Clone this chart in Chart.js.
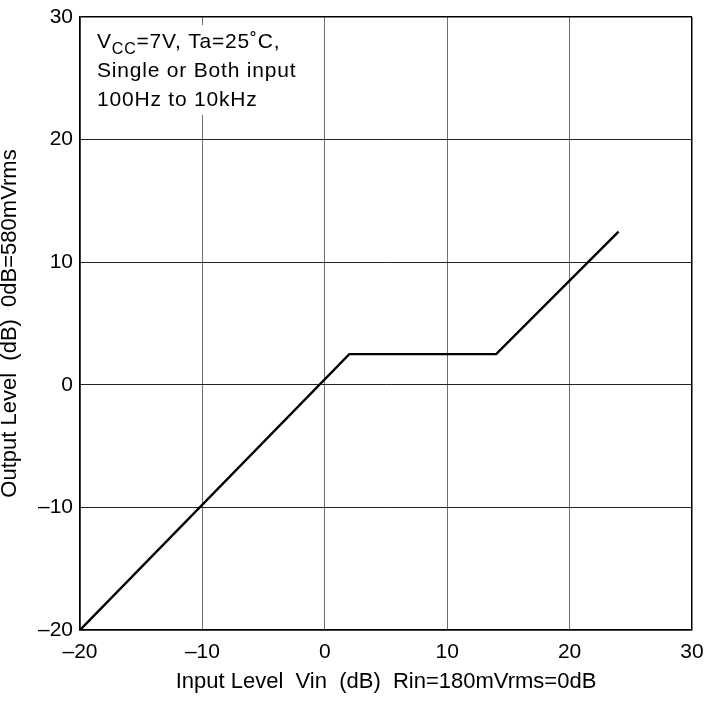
<!DOCTYPE html>
<html>
<head>
<meta charset="utf-8">
<script src="https://cdn.jsdelivr.net/npm/chart.js@4"></script>
<style>
  html, body { margin: 0; padding: 0; background: #fff; }
  #wrap { width: 707px; height: 701px; }
</style>
</head>
<body>
<div id="wrap"><canvas id="levelChart"></canvas></div>
<script>
// Input vs output level (dB)
const inputLevel = [-20, 2, 14, 24];
const outputLevel = [-20, 2.5, 2.5, 12.5];
const axisMin = -20;
const axisMax = 30;
const axisStep = 10;
const noteLines = ['=7V, Ta=25˚C,', 'Single or Both input', '100Hz to 10kHz'];

const fontFamily = '"Liberation Sans", Arial, sans-serif';
const dash = v => String(v).replace('-', '\u2013');

// grid: edges black, inner lines grey
const gridColor = (inner) => ctx => {
  const v = ctx.tick ? ctx.tick.value : null;
  return (v === axisMin || v === axisMax) ? '#000' : inner;
};
const gridWidth = ctx => {
  const v = ctx.tick ? ctx.tick.value : null;
  return (v === axisMin || v === axisMax) ? 1.5 : 1;
};

const notePlugin = {
  id: 'note',
  beforeDatasetsDraw(chart) {
    const { ctx, chartArea } = chart;
    const x0 = chartArea.left + 17;
    const y0 = chartArea.top + 31;
    ctx.save();
    ctx.fillStyle = '#fff';
    ctx.fillRect(chartArea.left + 4, chartArea.top + 8, 205, 90);
    ctx.fillStyle = '#000';
    ctx.textBaseline = 'alphabetic';
    ctx.letterSpacing = '0.8px';
    ctx.font = '21px ' + fontFamily;
    ctx.fillText('V', x0, y0);
    let x = x0 + ctx.measureText('V').width;
    ctx.font = '16px ' + fontFamily;
    ctx.fillText('CC', x, y0 + 6);
    x += ctx.measureText('CC').width;
    ctx.font = '21px ' + fontFamily;
    ctx.fillText(noteLines[0], x, y0);
    ctx.fillText(noteLines[1], x0, y0 + 29);
    ctx.fillText(noteLines[2], x0, y0 + 58);
    ctx.restore();
  }
};

new Chart(document.getElementById('levelChart'), {
  type: 'scatter',
  data: {
    datasets: [{
      data: inputLevel.map((x, i) => ({ x: x, y: outputLevel[i] })),
      showLine: true,
      borderColor: '#000',
      borderWidth: 2.4,
      pointRadius: 0,
      fill: false
    }]
  },
  options: {
    responsive: true,
    maintainAspectRatio: false,
    animation: false,
    layout: { padding: { top: 17, right: 15, left: 0, bottom: 0 } },
    scales: {
      x: {
        min: axisMin,
        max: axisMax,
        ticks: {
          stepSize: axisStep,
          color: '#000',
          padding: 10,
          maxRotation: 0,
          font: { family: fontFamily, size: 21 },
          callback: v => dash(v)
        },
        grid: { color: gridColor('#6e6e6e'), lineWidth: gridWidth, drawTicks: false },
        border: { color: '#000', width: 1.5 },
        title: {
          display: true,
          text: 'Input Level  Vin  (dB)  Rin=180mVrms=0dB',
          color: '#000',
          font: { family: fontFamily, size: 22 },
          padding: { top: 0, bottom: 6 }
        },
        afterFit: s => { s.height = 71; s.paddingLeft = 0; s.paddingRight = 0; }
      },
      y: {
        min: axisMin,
        max: axisMax,
        ticks: {
          stepSize: axisStep,
          color: '#000',
          padding: 7,
          font: { family: fontFamily, size: 21 },
          callback: v => dash(v)
        },
        grid: { color: gridColor('#222'), lineWidth: gridWidth, drawTicks: false },
        border: { color: '#000', width: 1.5 },
        title: {
          display: true,
          text: 'Output Level  (dB)  0dB=580mVrms',
          color: '#000',
          font: { family: fontFamily, size: 22 },
          padding: { top: -3, bottom: 0 }
        },
        afterFit: s => { s.width = 80; s.paddingTop = 0; s.paddingBottom = 0; }
      }
    },
    plugins: {
      legend: { display: false },
      tooltip: { enabled: false }
    }
  },
  plugins: [notePlugin]
});
</script>
</body>
</html>
